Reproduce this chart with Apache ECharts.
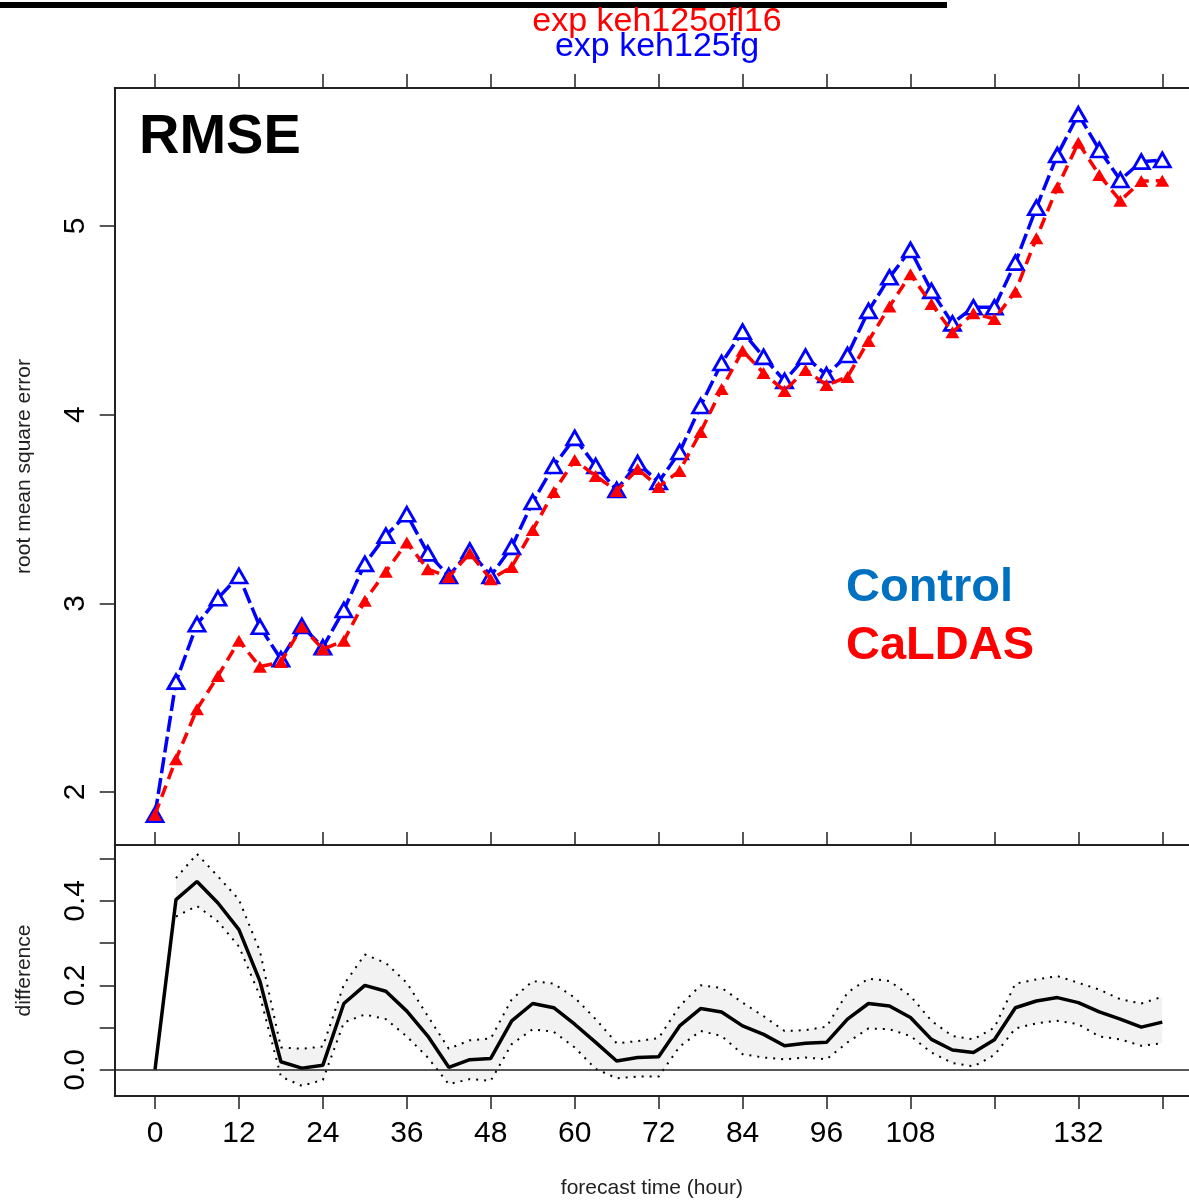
<!DOCTYPE html>
<html><head><meta charset="utf-8">
<script src="https://cdn.jsdelivr.net/npm/echarts@6/dist/echarts.min.js"></script>
<style>html,body{margin:0;padding:0;background:#fff}#c{width:1189px;height:1200px}</style>
</head><body><div id="c"></div>
<script>
const hours = [0,3,6,9,12,15,18,21,24,27,30,33,36,39,42,45,48,51,54,57,60,63,66,69,72,75,78,81,84,87,90,93,96,99,102,105,108,111,114,117,120,123,126,129,132,135,138,141,144];
const control = [1.88,2.585,2.889,3.027,3.145,2.876,2.704,2.880,2.767,2.965,3.209,3.359,3.472,3.265,3.145,3.279,3.145,
  3.299,3.537,3.728,3.877,3.728,3.601,3.744,3.643,3.802,4.046,4.274,4.440,4.306,4.179,4.307,4.210,4.316,4.550,4.728,4.873,
  4.656,4.484,4.569,4.569,4.806,5.097,5.376,5.592,5.403,5.244,5.341,5.350];
const caldas = [1.88,2.174,2.439,2.615,2.802,2.664,2.689,2.876,2.757,2.802,3.014,3.168,3.322,3.181,3.140,3.265,3.128,
  3.193,3.389,3.590,3.760,3.675,3.596,3.712,3.617,3.702,3.908,4.136,4.339,4.221,4.126,4.237,4.157,4.200,4.391,4.573,4.744,
  4.587,4.437,4.537,4.507,4.652,4.935,5.205,5.441,5.270,5.134,5.238,5.240];
const diff = [0,0.403,0.446,0.395,0.332,0.210,0.019,0.004,0.011,0.157,0.200,0.186,0.139,0.080,0.006,0.024,0.027,
  0.116,0.157,0.147,0.108,0.065,0.021,0.029,0.031,0.104,0.145,0.137,0.104,0.084,0.057,0.063,0.065,0.120,0.157,0.151,0.124,
  0.072,0.047,0.041,0.071,0.147,0.163,0.171,0.159,0.137,0.120,0.101,0.113];
const upper = [null,0.454,0.511,0.458,0.403,0.281,0.053,0.050,0.055,0.202,0.273,0.253,0.206,0.127,0.050,0.070,0.074,
  0.167,0.210,0.204,0.171,0.120,0.063,0.068,0.075,0.151,0.200,0.194,0.159,0.127,0.092,0.094,0.102,0.183,0.216,0.210,0.175,
  0.116,0.080,0.072,0.100,0.204,0.214,0.222,0.206,0.190,0.167,0.157,0.173];
const lower = [null,0.363,0.388,0.351,0.292,0.175,-0.016,-0.038,-0.024,0.112,0.131,0.120,0.079,0.029,-0.034,-0.022,-0.026,
  0.061,0.096,0.090,0.053,0.002,-0.020,-0.016,-0.016,0.055,0.092,0.080,0.037,0.029,0.025,0.029,0.025,0.065,0.098,0.096,0.080,
  0.041,0.016,0.008,0.035,0.098,0.110,0.116,0.108,0.079,0.072,0.057,0.063];
const xTicks = [0,12,24,36,48,60,72,84,96,108,120,132,144];
const xLabels = [0,12,24,36,48,60,72,84,96,108,132];
const yTicksTop = [2,3,4,5];
const yTicksBottom = [0,0.1,0.2,0.3,0.4,0.5];
const yLabelsBottom = [0,0.2,0.4];

const FONT = '"Liberation Sans", Arial, Helvetica, sans-serif';
const AX = '#222';
const pair = a => hours.map((h,i)=>[h,a[i]]);

const chart = echarts.init(document.getElementById('c'), null, {renderer:'canvas'});
const pxPerHour = 6.995;
const gl = 114.7, gw = 1189 - gl;
const xMin = -5.76, xMax = xMin + gw / pxPerHour;
const axLine = {show:true, onZero:false, lineStyle:{color:AX, width:2}};
const noLine = {show:false, onZero:false};

const option = {
  animation:false,
  backgroundColor:'#fff',
  grid:[
    {left:gl, width:gw, top:88, height:757, show:false, containLabel:false},
    {left:gl, width:gw, top:845, height:252, show:false, containLabel:false}
  ],
  xAxis:[
    {type:'value', gridIndex:0, min:xMin, max:xMax, position:'bottom',
      axisLine:axLine, splitLine:{show:false},
      axisTick:{show:true, inside:true, length:13, customValues:xTicks, lineStyle:{color:AX, width:1.5}},
      axisLabel:{show:false}},
    {type:'value', gridIndex:0, min:xMin, max:xMax, position:'top',
      axisLine:axLine, splitLine:{show:false},
      axisTick:{show:true, inside:false, length:14, customValues:xTicks, lineStyle:{color:AX, width:1.5}},
      axisLabel:{show:false}},
    {type:'value', gridIndex:1, min:xMin, max:xMax, position:'bottom',
      axisLine:axLine, splitLine:{show:false},
      axisTick:{show:true, inside:false, length:13, customValues:xTicks, lineStyle:{color:AX, width:1.5}},
      axisLabel:{show:true, customValues:xLabels, fontSize:30, color:'#000', fontFamily:FONT, margin:23},
      name:'forecast time (hour)', nameLocation:'middle', nameGap:82,
      nameTextStyle:{fontSize:21, color:'#222', fontFamily:FONT}}
  ],
  yAxis:[
    {type:'value', gridIndex:0, min:1.7191, max:5.7314, position:'left',
      axisLine:axLine, splitLine:{show:false},
      axisTick:{show:true, inside:false, length:15, customValues:yTicksTop, lineStyle:{color:AX, width:1.5}},
      axisLabel:{show:true, customValues:yTicksTop, rotate:90, fontSize:30, color:'#000', fontFamily:FONT, margin:24},
      name:'root mean square error', nameLocation:'middle', nameGap:80, nameRotate:90,
      nameTextStyle:{fontSize:21, color:'#222', fontFamily:FONT}},
    {type:'value', gridIndex:1, min:-0.062, max:0.5323, position:'left',
      axisLine:axLine, splitLine:{show:false},
      axisTick:{show:true, inside:false, length:15, customValues:yTicksBottom, lineStyle:{color:AX, width:1.5}},
      axisLabel:{show:true, customValues:yLabelsBottom, rotate:90, fontSize:30, color:'#000', fontFamily:FONT, margin:24,
        formatter:v=>v.toFixed(1)},
      name:'difference', nameLocation:'middle', nameGap:80, nameRotate:90,
      nameTextStyle:{fontSize:21, color:'#222', fontFamily:FONT}}
  ],
  series:[
    {type:'line', name:'exp keh125fg', xAxisIndex:0, yAxisIndex:0, data:pair(control), z:3,
      lineStyle:{color:'#0000ff', width:3.5, type:[16,5]},
      symbol:'triangle', symbolSize:[16,14], showAllSymbol:true,
      itemStyle:{color:'#ffffff', borderColor:'#0000ff', borderWidth:2.8}},
    {type:'line', name:'exp keh125ofl16', xAxisIndex:0, yAxisIndex:0, data:pair(caldas), z:4,
      lineStyle:{color:'#ff0000', width:3.5, type:[12,7]},
      symbol:'triangle', symbolSize:[14,12], showAllSymbol:true,
      itemStyle:{color:'#ff0000', borderWidth:0}},
    {type:'custom', xAxisIndex:2, yAxisIndex:1, silent:true, z:1, data:[[0,0]],
      renderItem:(params, api)=>{
        const top=[], bot=[];
        for(let i=0;i<hours.length;i++){
          if(upper[i]==null) continue;
          top.push(api.coord([hours[i], upper[i]]));
          bot.unshift(api.coord([hours[i], lower[i]]));
        }
        return {type:'polygon', shape:{points:top.concat(bot)}, style:{fill:'#f2f2f2'}};
      }},
    {type:'line', xAxisIndex:2, yAxisIndex:1, data:pair(upper), z:2, symbol:'none', connectNulls:false,
      lineStyle:{color:'#000', width:2, type:[2,6]}},
    {type:'line', xAxisIndex:2, yAxisIndex:1, data:pair(lower), z:2, symbol:'none', connectNulls:false,
      lineStyle:{color:'#000', width:2, type:[2,6]}},
    {type:'line', xAxisIndex:2, yAxisIndex:1, data:pair(diff), z:3, symbol:'none',
      lineStyle:{color:'#000', width:3.5},
      markLine:{silent:true, symbol:'none', label:{show:false},
        lineStyle:{color:AX, width:1.5, type:'solid'}, data:[{yAxis:0}]}}
  ],
  graphic:[
    {type:'rect', left:0, top:2, shape:{x:0,y:0,width:947,height:6}, style:{fill:'#000'}},
    {type:'text', x:657, y:39, style:{text:'exp keh125ofl16', fill:'#ff0000', font:'34px '+FONT, textAlign:'center', textVerticalAlign:'bottom'}},
    {type:'text', x:657, y:64, style:{text:'exp keh125fg', fill:'#0000ff', font:'34px '+FONT, textAlign:'center', textVerticalAlign:'bottom'}},
    {type:'text', x:139, y:166, style:{text:'RMSE', fill:'#000', font:'bold 56px '+FONT, textAlign:'left', textVerticalAlign:'bottom'}},
    {type:'text', x:846, y:612, style:{text:'Control', fill:'#0070c0', font:'bold 47px '+FONT, textAlign:'left', textVerticalAlign:'bottom'}},
    {type:'text', x:846, y:670, style:{text:'CaLDAS', fill:'#ff0000', font:'bold 47px '+FONT, textAlign:'left', textVerticalAlign:'bottom'}}
  ]
};
chart.setOption(option);
</script>
</body></html>
